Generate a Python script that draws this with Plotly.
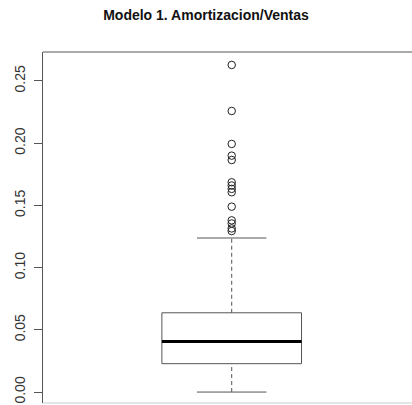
import plotly.graph_objects as go

# ---- data ----
q1 = 0.0228
median = 0.0407
q3 = 0.0637
lower_whisker = 0.0
upper_whisker = 0.1238
outliers = [0.2629, 0.2259, 0.1994, 0.1900, 0.1865, 0.1686, 0.1660, 0.1633,
            0.1606, 0.1490, 0.1380, 0.1355, 0.1315, 0.1294]
y_ticks = [0.00, 0.05, 0.10, 0.15, 0.20, 0.25]
y_ticktext = ["0.00", "0.05", "0.10", "0.15", "0.20", "0.25"]
title = "Modelo 1. Amortizacion/Ventas"

# ---- style constants ----
xc = 1.0
box_half = 0.185
staple_half = 0.092
line_col = "#555555"
font = "Liberation Sans, Arial, sans-serif"

fig = go.Figure()
# box
fig.add_trace(go.Scatter(
    x=[xc - box_half, xc + box_half, xc + box_half, xc - box_half, xc - box_half],
    y=[q1, q1, q3, q3, q1], mode="lines",
    line=dict(color=line_col, width=1), hoverinfo="skip"))
# whiskers (dashed)
fig.add_trace(go.Scatter(x=[xc, xc], y=[q3, upper_whisker], mode="lines",
                         line=dict(color=line_col, width=1, dash="4px,3px"), hoverinfo="skip"))
fig.add_trace(go.Scatter(x=[xc, xc], y=[lower_whisker, q1], mode="lines",
                         line=dict(color=line_col, width=1, dash="4px,3px"), hoverinfo="skip"))
# staples
fig.add_trace(go.Scatter(x=[xc - staple_half, xc + staple_half], y=[upper_whisker] * 2,
                         mode="lines", line=dict(color=line_col, width=1), hoverinfo="skip"))
fig.add_trace(go.Scatter(x=[xc - staple_half, xc + staple_half], y=[lower_whisker] * 2,
                         mode="lines", line=dict(color=line_col, width=1), hoverinfo="skip"))
# median
fig.add_trace(go.Scatter(x=[xc - box_half, xc + box_half], y=[median] * 2, mode="lines",
                         line=dict(color="#000000", width=3), hoverinfo="skip"))
# outliers
fig.add_trace(go.Scatter(x=[xc] * len(outliers), y=outliers, mode="markers",
                         marker=dict(symbol="circle-open", size=7.5,
                                     line=dict(color="#222222", width=1), color="#222222")))

fig.update_layout(
    width=412, height=405,
    margin=dict(l=43, r=0, t=52, b=2),
    paper_bgcolor="white", plot_bgcolor="white",
    showlegend=False,
    title=dict(text="<b>" + title + "</b>", x=0.5, xanchor="center", xref="container",
               y=1 - 15 / 405, yanchor="middle",
               font=dict(family=font, size=14, color="#111111")),
    font=dict(family=font),
)
fig.update_xaxes(range=[xc - 0.5, xc + 0.4777], showticklabels=False, ticks="",
                 showgrid=False, zeroline=False, showline=False)
fig.update_yaxes(range=[-0.0088, 0.2733], tickvals=y_ticks, ticktext=y_ticktext,
                 tickangle=-90, ticks="outside", ticklen=8, tickcolor=line_col,
                 tickfont=dict(family=font, size=14, color="#333333"),
                 ticklabelstandoff=3,
                 showgrid=False, zeroline=False, showline=True, linecolor=line_col, linewidth=1)
# top and bottom frame lines
fig.add_shape(type="line", xref="paper", yref="paper", x0=0, x1=1, y0=1, y1=1,
              line=dict(color=line_col, width=1))
fig.add_shape(type="line", xref="paper", yref="paper", x0=0, x1=1, y0=0, y1=0,
              line=dict(color="#cccccc", width=1))

fig.write_html("out.html")
